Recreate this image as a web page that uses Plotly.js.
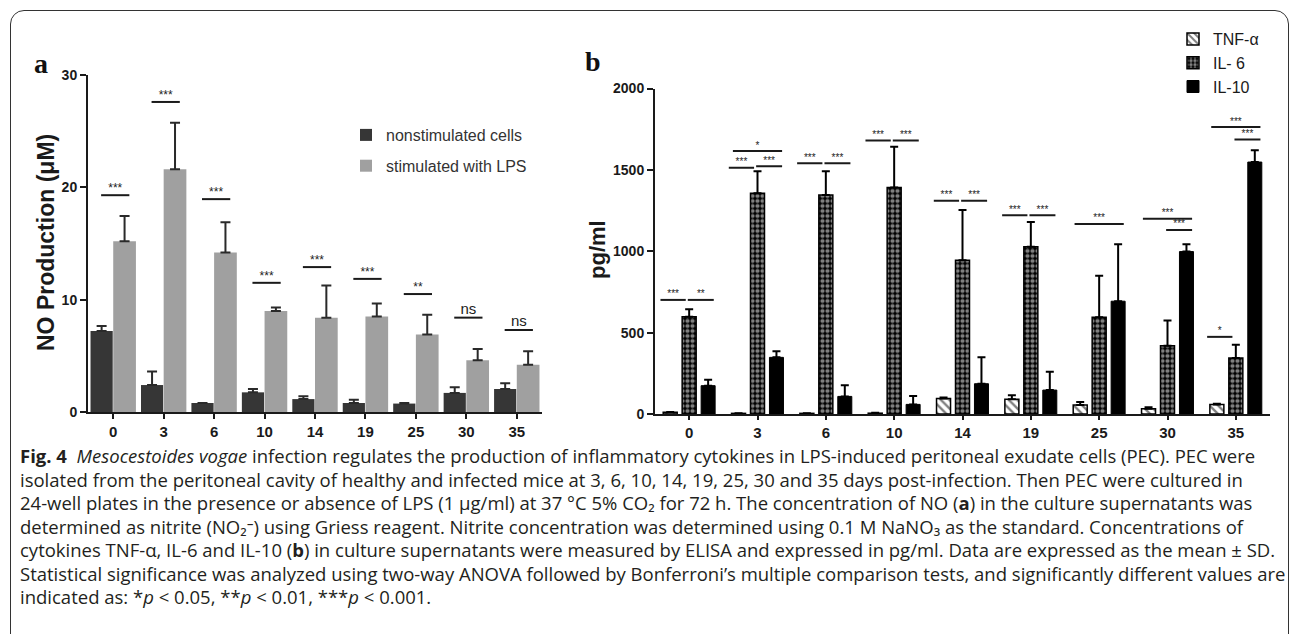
<!DOCTYPE html>
<html><head><meta charset="utf-8">
<script src="https://cdn.plot.ly/plotly-3.0.1.min.js"></script>
<style>
html,body{margin:0;padding:0;background:#fff;width:1290px;height:634px;overflow:hidden;}
#frame{position:absolute;left:10px;top:10px;width:1279px;height:700px;border:1.5px solid #333;border-radius:14px 14px 0 0;box-sizing:border-box;}
#chart{position:absolute;left:0;top:0;width:1290px;height:634px;}
#caption{position:absolute;left:20px;top:444px;font-family:"Open Sans","Roboto",sans-serif;font-size:17px;line-height:23.5px;color:#231f20;white-space:nowrap;}
#caption div{height:23.5px;}
</style></head><body>
<div id="frame"></div>
<div id="chart"></div>
<div id="caption">
<div id="cap1"><b>Fig. 4</b>&nbsp; <i>Mesocestoides vogae</i> infection regulates the production of inflammatory cytokines in LPS-induced peritoneal exudate cells (PEC). PEC were</div>
<div>isolated from the peritoneal cavity of healthy and infected mice at 3, 6, 10, 14, 19, 25, 30 and 35 days post-infection. Then PEC were cultured in</div>
<div>24-well plates in the presence or absence of LPS (1 µg/ml) at 37 °C 5% CO₂ for 72 h. The concentration of NO (<b>a</b>) in the culture supernatants was</div>
<div>determined as nitrite (NO₂⁻) using Griess reagent. Nitrite concentration was determined using 0.1 M NaNO₃ as the standard. Concentrations of</div>
<div>cytokines TNF-α, IL-6 and IL-10 (<b>b</b>) in culture supernatants were measured by ELISA and expressed in pg/ml. Data are expressed as the mean ± SD.</div>
<div>Statistical significance was analyzed using two-way ANOVA followed by Bonferroni’s multiple comparison tests, and significantly different values are</div>
<div>indicated as: *<i>p</i> &lt; 0.05, **<i>p</i> &lt; 0.01, ***<i>p</i> &lt; 0.001.</div>
</div>
<script>
// ---------- data ----------
const days = ['0','3','6','10','14','19','25','30','35'];

// panel a: NO production (µM)
const noNonstim   = [7.2, 2.4, 0.8, 1.75, 1.15, 0.8, 0.75, 1.7, 2.05];
const noNonstimSD = [0.45, 1.2, 0.0, 0.3, 0.25, 0.3, 0.05, 0.5, 0.5];
const noLPS       = [15.2, 21.6, 14.2, 9.0, 8.4, 8.5, 6.9, 4.6, 4.2];
const noLPSSD     = [2.25, 4.15, 2.7, 0.3, 2.85, 1.15, 1.75, 1.0, 1.2];
const sigALevel   = [19.3, 27.6, 18.95, 11.5, 12.9, 11.85, 10.5, 8.4, 7.3];
const sigALabel   = ['***','***','***','***','***','***','**','ns','ns'];

// panel b: cytokines (pg/ml)
const tnf    = [10, 4, 4, 5, 95, 90, 55, 33, 58];
const tnfSD  = [3, 1, 1, 2, 6, 25, 18, 8, 5];
const il6    = [597, 1356, 1346, 1391, 945, 1027, 595, 419, 344];
const il6SD  = [47, 135, 145, 251, 309, 153, 254, 156, 81];
const il10   = [174, 348, 108, 59, 186, 147, 693, 998, 1548];
const il10SD = [37, 37, 68, 51, 162, 113, 350, 45, 72];
// significance comparisons: L = TNF vs IL-6, R = IL-6 vs IL-10, W = TNF vs IL-10
const sigBGroup = [0,0,1,1,1,2,2,3,3,4,4,5,5,6,7,7,8,8,8];
const sigBPair  = ['L','R','L','R','W','L','R','L','R','L','R','L','R','W','W','R','W','R','L'];
const sigBLevel = [701,701,1513,1523,1616,1540,1540,1681,1681,1311,1311,1221,1221,1168,1200,1131,1763,1687,474];
const sigBLabel = ['***','**','***','***','*','***','***','***','***','***','***','***','***','***','***','***','***','***','*'];

// ---------- helpers ----------
const W = 1290, H = 634;
const X = px => px / W;
const Y = py => 1 - py / H;
const idx = days.map((d, i) => i);
const zeros = days.map(() => 0);
const INK = '#1a1a1a';

// ---------- panel a ----------
const traces = [];
traces.push({
  type:'bar', x: idx, y: noNonstim, xaxis:'x', yaxis:'y', name:'nonstimulated cells',
  width: 0.44, offset: -0.45, legend:'legend', legendgroup:'a1',
  marker:{color:'#363636', line:{width:0}},
  error_y:{type:'data', array: noNonstimSD, arrayminus: zeros, symmetric:false, color:'#2a2a2a', thickness:2, width:5},
  hoverinfo:'skip'
});
traces.push({
  type:'bar', x: idx, y: noLPS, xaxis:'x', yaxis:'y', name:'stimulated with LPS',
  width: 0.45, offset: 0.0, legend:'legend', legendgroup:'a2',
  marker:{color:'#a0a0a0', line:{width:0}},
  error_y:{type:'data', array: noLPSSD, arrayminus: zeros, symmetric:false, color:'#2a2a2a', thickness:2, width:5},
  hoverinfo:'skip'
});
// significance lines (panel a)
const aSpan = [-0.24, 0.32];
const aLx = [], aLy = [], aTx = [], aTy = [], aTs = [];
sigALevel.forEach((lv, i) => {
  aLx.push(i + aSpan[0], i + aSpan[1], null);
  aLy.push(lv, lv, null);
  aTx.push(i + (aSpan[0] + aSpan[1]) / 2);
  aTy.push(lv);
  aTs.push(sigALabel[i] === 'ns' ? 15 : 12);
});
traces.push({type:'scatter', mode:'lines', x:aLx, y:aLy, xaxis:'x', yaxis:'y',
  line:{color:INK, width:2}, showlegend:false, hoverinfo:'skip'});
traces.push({type:'scatter', mode:'text', x:aTx, y:aTy, text:sigALabel, xaxis:'x', yaxis:'y',
  textposition:'top center', textfont:{size:aTs, color:'#222', family:'Liberation Sans, Arial'},
  showlegend:false, hoverinfo:'skip'});

// ---------- panel b ----------
const bw = 0.205;
traces.push({
  type:'bar', x: idx, y: tnf, xaxis:'x2', yaxis:'y2', name:'TNF-α',
  width: bw, offset: -0.38, legend:'legend2',
  marker:{color:'white', line:{color:'black', width:1.5},
    pattern:{shape:'\\', fgcolor:'black', size:6, solidity:0.4, fillmode:'overlay'}},
  error_y:{type:'data', array: tnfSD, arrayminus: zeros, symmetric:false, color:'black', thickness:2, width:4},
  hoverinfo:'skip'
});
traces.push({
  type:'bar', x: idx, y: il6, xaxis:'x2', yaxis:'y2', name:'IL- 6',
  width: bw, offset: -0.1025, legend:'legend2',
  marker:{color:'black', line:{color:'black', width:1.5},
    pattern:{shape:'.', fgcolor:'white', size:5, solidity:0.55, fillmode:'overlay'}},
  error_y:{type:'data', array: il6SD, arrayminus: zeros, symmetric:false, color:'black', thickness:2, width:4},
  hoverinfo:'skip'
});
traces.push({
  type:'bar', x: idx, y: il10, xaxis:'x2', yaxis:'y2', name:'IL-10',
  width: bw, offset: 0.175, legend:'legend2',
  marker:{color:'black', line:{color:'black', width:1}},
  error_y:{type:'data', array: il10SD, arrayminus: zeros, symmetric:false, color:'black', thickness:2, width:4},
  hoverinfo:'skip'
});
const pairSpan = {L:[-0.42,-0.05], R:[-0.02,0.36], W:[-0.36,0.36]};
const bLx = [], bLy = [], bTx = [], bTy = [];
sigBLevel.forEach((lv, k) => {
  const g = sigBGroup[k], s = pairSpan[sigBPair[k]];
  bLx.push(g + s[0], g + s[1], null);
  bLy.push(lv, lv, null);
  bTx.push(g + (s[0] + s[1]) / 2);
  bTy.push(lv);
});
traces.push({type:'scatter', mode:'lines', x:bLx, y:bLy, xaxis:'x2', yaxis:'y2',
  line:{color:INK, width:2}, showlegend:false, hoverinfo:'skip'});
traces.push({type:'scatter', mode:'text', x:bTx, y:bTy, text:sigBLabel, xaxis:'x2', yaxis:'y2',
  textposition:'top center', textfont:{size:10, color:'#222', family:'Liberation Sans, Arial'},
  showlegend:false, hoverinfo:'skip'});

// ---------- layout ----------
const axisCommon = {
  showline:true, linewidth:2, linecolor:INK, ticks:'outside', ticklen:6, tickwidth:2, tickcolor:INK,
  showgrid:false, zeroline:false, fixedrange:true,
  tickfont:{size:15, family:'Liberation Sans, Arial', weight:'bold', color:INK}
};
const layout = {
  width:W, height:H, margin:{l:0, r:0, t:0, b:0}, autosize:false,
  paper_bgcolor:'rgba(0,0,0,0)', plot_bgcolor:'rgba(0,0,0,0)',
  font:{family:'Liberation Sans, Arial, sans-serif', color:INK},
  xaxis: Object.assign({}, axisCommon, {domain:[X(88), X(542)], range:[-0.5, 8.5], tickvals:idx, ticktext:days, anchor:'y',
    ticklen:5}),
  yaxis: Object.assign({}, axisCommon, {domain:[Y(412), Y(75)], range:[0, 30], tickvals:[0,10,20,30], anchor:'x',
    tickfont:{size:14, family:'Liberation Sans, Arial', weight:'bold', color:INK}}),
  xaxis2: Object.assign({}, axisCommon, {domain:[X(655), X(1270)], range:[-0.5, 8.5], tickvals:idx, ticktext:days, anchor:'y2',
    ticklen:4}),
  yaxis2: Object.assign({}, axisCommon, {domain:[Y(414), Y(88.5)], range:[0, 2000], tickvals:[0,500,1000,1500,2000], anchor:'x2',
    tickfont:{size:14, family:'Liberation Sans, Arial', weight:'bold', color:INK}}),
  legend:{x:X(346), y:Y(118), xanchor:'left', yanchor:'top', bgcolor:'rgba(0,0,0,0)',
    font:{size:16, color:'#333', family:'Liberation Sans, Arial'}, tracegroupgap:7, traceorder:'grouped'},
  legend2:{x:X(1173), y:Y(22), xanchor:'left', yanchor:'top', bgcolor:'rgba(0,0,0,0)',
    font:{size:16, color:INK, family:'Liberation Sans, Arial'}, traceorder:'normal'},
  annotations:[
    {text:'a', x:X(32), y:Y(46), xref:'paper', yref:'paper', showarrow:false,
      font:{family:'Liberation Serif, serif', size:28, weight:'bold', color:'#111'}},
    {text:'b', x:X(593), y:Y(44), xref:'paper', yref:'paper', showarrow:false,
      font:{family:'Liberation Serif, serif', size:28, weight:'bold', color:'#111'}},
    {text:'NO Production (μM)', x:X(31), y:Y(243), xref:'paper', yref:'paper', showarrow:false, textangle:-90,
      font:{size:23, weight:'bold', color:INK}},
    {text:'pg/ml', x:X(597), y:Y(250), xref:'paper', yref:'paper', showarrow:false, textangle:-90,
      font:{size:22, weight:'bold', color:INK}}
  ]
};
Plotly.newPlot('chart', traces, layout, {staticPlot:true, displayModeBar:false});

// fit caption width so that its first line spans the figure width
(function fitCaption(){
  const cap = document.getElementById('caption');
  const l1 = document.getElementById('cap1');
  const range = document.createRange();
  range.selectNodeContents(l1);
  const w = range.getBoundingClientRect().width;
  const target = 1236;
  if (w > 0) {
    const fs = parseFloat(getComputedStyle(cap).fontSize);
    cap.style.fontSize = (fs * target / w).toFixed(2) + 'px';
  }
})();
</script>
</body></html>
